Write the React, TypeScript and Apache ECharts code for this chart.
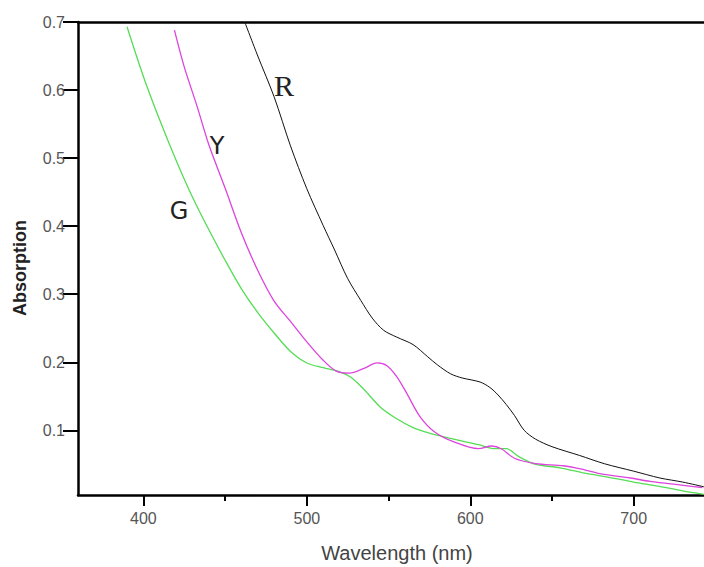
import React, { useEffect, useRef } from "react";
import * as echarts from "echarts";

// Wavelength (nm) / absorption samples
const gWave = [390, 400, 410, 420, 430, 440, 450, 460, 470, 480, 490, 500, 510, 520, 527, 535, 545, 555, 565, 575, 590, 605, 615, 622, 630, 640, 655, 670, 685, 700, 715, 730, 743];
const gAbs = [0.693, 0.62, 0.556, 0.497, 0.443, 0.395, 0.35, 0.308, 0.273, 0.243, 0.216, 0.199, 0.192, 0.186, 0.178, 0.16, 0.134, 0.117, 0.104, 0.096, 0.087, 0.079, 0.073, 0.073, 0.061, 0.05, 0.045, 0.037, 0.031, 0.024, 0.018, 0.011, 0.006];

const yWave = [419, 425, 433, 440, 450, 460, 470, 480, 490, 500, 510, 518, 526, 535, 543, 549, 555, 561, 569, 578, 590, 605, 613, 619, 627, 640, 657, 670, 680, 698, 710, 742];
const yAbs = [0.688, 0.634, 0.575, 0.52, 0.456, 0.39, 0.335, 0.29, 0.26, 0.23, 0.203, 0.187, 0.184, 0.191, 0.199, 0.195, 0.179, 0.155, 0.121, 0.098, 0.083, 0.073, 0.077, 0.073, 0.059, 0.051, 0.048, 0.042, 0.036, 0.03, 0.025, 0.016];

const rWave = [462, 470, 480, 490, 500, 510, 517, 525, 533, 540, 547, 555, 565, 574, 580, 588, 595, 606, 612, 617, 622, 627, 633, 640, 650, 667, 682, 700, 716, 730, 743];
const rAbs = [0.7, 0.65, 0.59, 0.518, 0.455, 0.401, 0.365, 0.323, 0.291, 0.265, 0.247, 0.237, 0.226, 0.208, 0.196, 0.183, 0.177, 0.171, 0.163, 0.152, 0.138, 0.122, 0.1, 0.087, 0.076, 0.063, 0.051, 0.04, 0.03, 0.024, 0.017];

const xMajorTicks = [400, 500, 600, 700];
const xMinorTicks = [450, 550, 650];
const yTicks = [0.1, 0.2, 0.3, 0.4, 0.5, 0.6, 0.7];

const zip = (xs: number[], ys: number[]) => xs.map((x, i) => [x, ys[i]]);

export default function App() {
  const ref = useRef<HTMLDivElement>(null);
  useEffect(() => {
    if (!ref.current) return;
    const chart = echarts.init(ref.current, null, { renderer: "svg" });
    const labelFont = "Liberation Sans";
    const xBase = { type: "value", min: 360, max: 743, gridIndex: 0, splitLine: { show: false } };
    chart.setOption({
      animation: false,
      backgroundColor: "#ffffff",
      grid: { left: 78, top: 22, right: 0, bottom: 72 },
      xAxis: [
        {
          ...xBase,
          position: "bottom",
          axisLine: { show: true, lineStyle: { color: "#000", width: 2.5 } },
          axisTick: { show: true, inside: false, length: 11, lineStyle: { color: "#000", width: 2 }, customValues: xMajorTicks },
          axisLabel: { show: true, margin: 15, color: "#555", fontSize: 16, fontFamily: labelFont, customValues: xMajorTicks },
        },
        {
          ...xBase,
          position: "bottom",
          axisLine: { show: false },
          axisTick: { show: true, inside: false, length: 6, lineStyle: { color: "#000", width: 2 }, customValues: xMinorTicks },
          axisLabel: { show: false },
        },
        {
          ...xBase,
          position: "top",
          axisLine: { show: true, lineStyle: { color: "#000", width: 2.5 } },
          axisTick: { show: false },
          axisLabel: { show: false },
        },
      ],
      yAxis: {
        type: "value",
        min: 0.005,
        max: 0.7,
        splitLine: { show: false },
        axisLine: { show: true, lineStyle: { color: "#000", width: 2.5 } },
        axisTick: { show: true, inside: false, length: 15, lineStyle: { color: "#000", width: 2 }, customValues: yTicks },
        axisLabel: { show: true, margin: 13, color: "#555", fontSize: 16, fontFamily: labelFont, customValues: yTicks, formatter: (v: number) => v.toFixed(1) },
      },
      series: [
        { type: "line", name: "G", data: zip(gWave, gAbs), xAxisIndex: 0, showSymbol: false, smooth: 0.3, lineStyle: { color: "#55dd55", width: 1.3 }, itemStyle: { color: "#55dd55" } },
        { type: "line", name: "Y", data: zip(yWave, yAbs), xAxisIndex: 0, showSymbol: false, smooth: 0.3, lineStyle: { color: "#dd44dd", width: 1.3 }, itemStyle: { color: "#dd44dd" } },
        { type: "line", name: "R", data: zip(rWave, rAbs), xAxisIndex: 0, showSymbol: false, smooth: 0.3, lineStyle: { color: "#111111", width: 1 }, itemStyle: { color: "#111" } },
      ],
      graphic: [
        { type: "text", x: 284, y: 85, style: { text: "R", font: '30px "Liberation Serif"', fill: "#222", textAlign: "center", align: "center", textVerticalAlign: "middle", verticalAlign: "middle" } },
        { type: "text", x: 217, y: 146, style: { text: "Y", font: '24px "DejaVu Sans"', fill: "#222", textAlign: "center", align: "center", textVerticalAlign: "middle", verticalAlign: "middle" } },
        { type: "text", x: 179, y: 211, style: { text: "G", font: '24px "DejaVu Sans"', fill: "#222", textAlign: "center", align: "center", textVerticalAlign: "middle", verticalAlign: "middle" } },
        { type: "text", x: 397, y: 553, style: { text: "Wavelength (nm)", font: '20px "Liberation Sans"', fill: "#444", textAlign: "center", align: "center", textVerticalAlign: "middle", verticalAlign: "middle" } },
        { type: "text", x: 20, y: 268, rotation: Math.PI / 2, style: { text: "Absorption", font: 'bold 18px "Liberation Sans"', fill: "#222", textAlign: "center", align: "center", textVerticalAlign: "middle", verticalAlign: "middle" } },
      ],
    });
    return () => chart.dispose();
  }, []);
  return <div ref={ref} style={{ position: "fixed", left: 0, top: 0, width: 704, height: 567 }} />;
}
